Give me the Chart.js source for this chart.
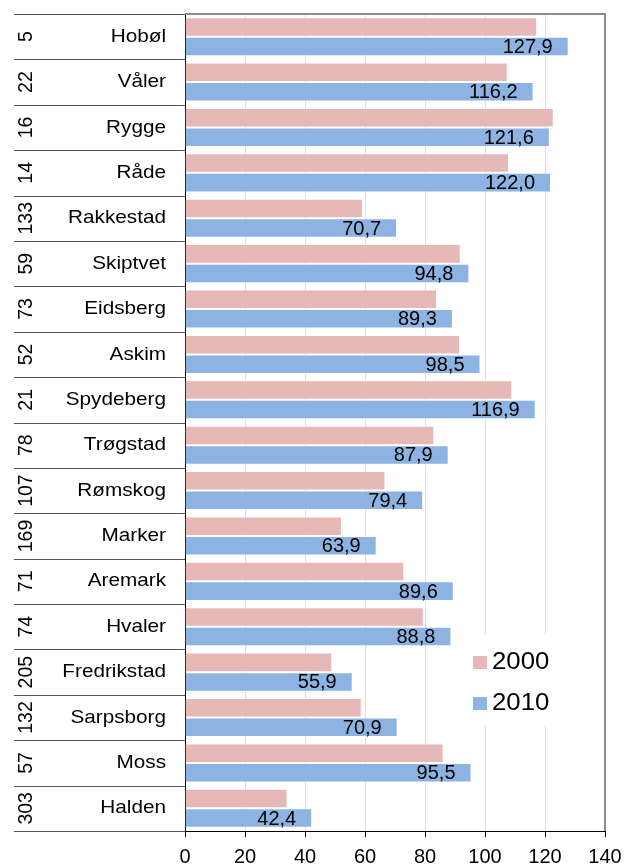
<!DOCTYPE html>
<html>
<head>
<meta charset="utf-8">
<script src="https://cdn.jsdelivr.net/npm/chart.js@4"></script>
<style>
  body { margin: 0; background: #fff; }
  canvas { display: block; }
</style>
</head>
<body>
<canvas id="kommuneChart" width="624" height="865"></canvas>
<script>
var municipalities = ["Hobøl", "Våler", "Rygge", "Råde", "Rakkestad", "Skiptvet", "Eidsberg", "Askim",
    "Spydeberg", "Trøgstad", "Rømskog", "Marker", "Aremark", "Hvaler", "Fredrikstad", "Sarpsborg", "Moss", "Halden"];
var ranks = [5, 22, 16, 14, 133, 59, 73, 52, 21, 78, 107, 169, 71, 74, 205, 132, 57, 303];
var values2000 = [117.4, 107.6, 122.9, 108.0, 59.3, 91.9, 84.0, 91.7, 109.1, 83.1, 66.8, 52.3, 73.1, 79.6, 49.1, 58.9, 86.2, 34.2];
var values2010 = [127.9, 116.2, 121.6, 122.0, 70.7, 94.8, 89.3, 98.5, 116.9, 87.9, 79.4, 63.9, 89.6, 88.8, 55.9, 70.9, 95.5, 42.4];
var seriesLabels = ["2000", "2010"];
var seriesColors = ["#e6b8b7", "#8db3e2"];

var FONT = "'Liberation Sans', Arial, sans-serif";

// draws text with a horizontal stretch factor
var drawText = function(ctx, text, x, y, size, sx, align) {
    ctx.save();
    ctx.font = size + "px " + FONT;
    ctx.textAlign = align;
    ctx.textBaseline = "middle";
    ctx.translate(x, y);
    ctx.scale(sx, 1);
    ctx.fillText(text, 0, 0);
    ctx.restore();
};

var tablePlugin = {
    id: "tablePlugin",
    afterDraw: function(chart) {
        var ctx = chart.ctx;
        var area = chart.chartArea;
        var yScale = chart.scales.y;
        var n = municipalities.length;
        var step = (area.bottom - area.top) / n;

        // row lines of the label table
        ctx.save();
        ctx.strokeStyle = "#555";
        ctx.lineWidth = 1;
        for (var i = 0; i <= n; i++) {
            var ly = Math.round(area.top + i * step) + 0.5;
            ctx.beginPath();
            ctx.moveTo(14, ly);
            ctx.lineTo(area.left, ly);
            ctx.stroke();
        }
        // frame on top and right of the plot
        ctx.strokeStyle = "#8c8c8c";
        ctx.lineWidth = 2;
        ctx.beginPath();
        ctx.moveTo(area.left, area.top);
        ctx.lineTo(area.right, area.top);
        ctx.lineTo(area.right, area.bottom);
        ctx.stroke();
        ctx.restore();

        // names and ranks
        ctx.fillStyle = "#000";
        for (var j = 0; j < n; j++) {
            var cy = yScale.getPixelForValue(j);
            drawText(ctx, municipalities[j], 166, cy, 18.5, 1.12, "right");
            ctx.save();
            ctx.translate(27, cy);
            ctx.rotate(-Math.PI / 2);
            ctx.font = "19.5px " + FONT;
            ctx.textAlign = "center";
            ctx.textBaseline = "middle";
            ctx.fillText(String(ranks[j]), 0, 0);
            ctx.restore();
        }

        // value labels on the 2010 bars
        var meta = chart.getDatasetMeta(1);
        meta.data.forEach(function(bar, k) {
            var txt = values2010[k].toFixed(1).replace(".", ",");
            drawText(ctx, txt, bar.x - 16, bar.y + 1, 20, 1, "right");
        });

        // legend box inside the plot
        ctx.save();
        ctx.fillStyle = "#fff";
        ctx.fillRect(463, 634, area.right - 464, 92);
        for (var s = 0; s < seriesLabels.length; s++) {
            var ly2 = 662 + s * 41;
            ctx.fillStyle = seriesColors[s];
            ctx.fillRect(473, ly2 - 6, 14, 13);
            ctx.fillStyle = "#000";
            drawText(ctx, seriesLabels[s], 492, ly2 + 1, 23, 1.12, "left");
        }
        ctx.restore();
    }
};

var ctx = document.getElementById("kommuneChart");
new Chart(ctx, {
    type: "bar",
    data: {
        labels: municipalities,
        datasets: [{
            label: seriesLabels[0],
            data: values2000,
            backgroundColor: seriesColors[0],
            borderColor: "rgba(255,255,255,0.4)",
            borderWidth: 1,
            categoryPercentage: 0.86,
            barPercentage: 1.0
        }, {
            label: seriesLabels[1],
            data: values2010,
            backgroundColor: seriesColors[1],
            borderColor: "rgba(255,255,255,0.4)",
            borderWidth: 1,
            categoryPercentage: 0.86,
            barPercentage: 1.0
        }]
    },
    options: {
        indexAxis: "y",
        responsive: false,
        animation: false,
        layout: { padding: { top: 14, right: 19, left: 0, bottom: 0 } },
        plugins: {
            legend: { display: false },
            tooltip: { enabled: false }
        },
        scales: {
            x: {
                min: 0,
                max: 140,
                ticks: {
                    stepSize: 20,
                    color: "#000",
                    padding: 8,
                    maxRotation: 0,
                    font: { family: FONT, size: 20 }
                },
                grid: {
                    color: "#dcdcf4",
                    tickColor: "#000",
                    tickLength: 6
                },
                border: { color: "#000", width: 1 },
                afterFit: function(scale) {
                    scale.height = 34;
                    scale.paddingLeft = 0;
                    scale.paddingRight = 0;
                }
            },
            y: {
                ticks: { display: false },
                grid: { display: false },
                border: { color: "#000", width: 1 },
                afterFit: function(scale) { scale.width = 185; }
            }
        }
    },
    plugins: [tablePlugin]
});
</script>
</body>
</html>
